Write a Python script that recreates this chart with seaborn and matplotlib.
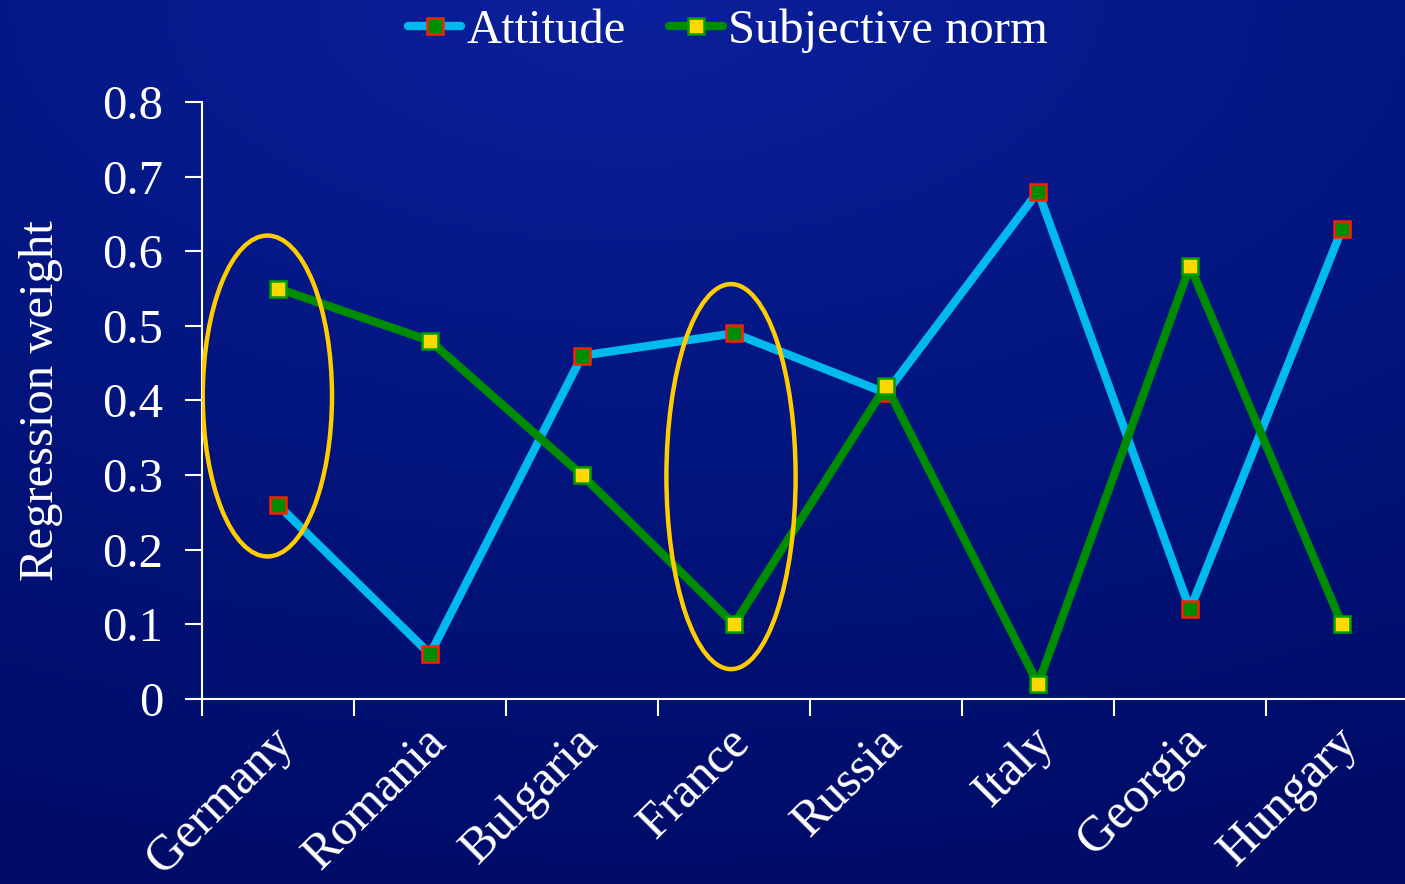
import numpy as np
import pandas as pd
import matplotlib
matplotlib.use("Agg")
import matplotlib.pyplot as plt
import matplotlib.transforms as mtransforms
from matplotlib.patches import Ellipse
from matplotlib.colors import LinearSegmentedColormap
import seaborn as sns

countries = ["Germany", "Romania", "Bulgaria", "France", "Russia", "Italy", "Georgia", "Hungary"]
attitude = [0.26, 0.06, 0.46, 0.49, 0.41, 0.68, 0.12, 0.63]
subjective_norm = [0.55, 0.48, 0.30, 0.10, 0.42, 0.02, 0.58, 0.10]
y_ticks = [0, 0.1, 0.2, 0.3, 0.4, 0.5, 0.6, 0.7, 0.8]
y_tick_labels = ["0", "0.1", "0.2", "0.3", "0.4", "0.5", "0.6", "0.7", "0.8"]
# highlighted groups: (x centre, y centre, height in data units)
highlights = [(-0.07, 0.406, 0.43), (2.98, 0.298, 0.516)]

sns.set_theme(style="ticks")
plt.rcParams["font.family"] = ["Liberation Serif", "DejaVu Serif"]

fig = plt.figure(figsize=(14.05, 8.84), dpi=100)

# background gradient
bg = fig.add_axes([0, 0, 1, 1], zorder=-10)
cmap = LinearSegmentedColormap.from_list("bg", ["#0b209c", "#03157f", "#000c68"])
yy, xx = np.mgrid[0:1:200j, 0:1:300j]
grad = np.sqrt(((xx - 0.45) * 0.9) ** 2 + (yy * 1.1) ** 2)
bg.imshow(grad, cmap=cmap, aspect="auto", extent=[0, 1, 1, 0], vmin=0, vmax=1.1)
bg.axis("off")

ax = fig.add_axes([0.1438, 0.2093, 0.8562, 0.6753])
ax.patch.set_alpha(0)

df = pd.DataFrame({"country": countries, "Attitude": attitude,
                   "Subjective norm": subjective_norm})

sns.lineplot(data=df, x="country", y="Attitude", sort=False, ax=ax,
             color="#00b9ee", linewidth=6, marker="s", markersize=11,
             markerfacecolor="#008c00", markeredgecolor="#ff2000",
             markeredgewidth=1.8, label="Attitude")
sns.lineplot(data=df, x="country", y="Subjective norm", sort=False, ax=ax,
             color="#008c00", linewidth=6, marker="s", markersize=11,
             markerfacecolor="#ffd800", markeredgecolor="#00a000",
             markeredgewidth=1.8, label="Subjective norm")

for cx, cy, h in highlights:
    ax.add_patch(Ellipse((cx, cy), 0.85, h, fill=False,
                         edgecolor="#ffcc00", linewidth=3.2, zorder=5))

ax.set_yticks(y_ticks)
ax.set_yticklabels(y_tick_labels)
ax.set_xticks(range(len(countries)))
ax.set_xticklabels(countries)
ax.set_xticks(np.arange(-0.5, 7.6, 1), minor=True)
ax.set_xlim(-0.5, 7.414)
ax.set_ylim(0, 0.8)

for side in ["top", "right"]:
    ax.spines[side].set_visible(False)
for side in ["left", "bottom"]:
    ax.spines[side].set_color("white")
    ax.spines[side].set_linewidth(1.5)

ax.tick_params(axis="y", colors="white", labelsize=35, length=12, width=1.5,
               direction="out", pad=16)
ax.tick_params(axis="x", which="major", length=0, colors="white",
               labelsize=36, pad=14)
ax.tick_params(axis="x", which="minor", length=12, width=1.5, color="white",
               direction="out")
shift = mtransforms.ScaledTranslation(-8 / 100, 0, fig.dpi_scale_trans)
for lab in ax.get_xticklabels():
    lab.set_rotation(45)
    lab.set_ha("right")
    lab.set_rotation_mode("anchor")
    lab.set_transform(lab.get_transform() + shift)

ax.set_xlabel("")
ax.set_ylabel("Regression weight", color="white", fontsize=35, labelpad=28)

leg = ax.legend(loc="upper center", bbox_to_anchor=(0.437, 1.19), ncol=2,
                frameon=False, fontsize=35, handlelength=1.1, handletextpad=0.1,
                columnspacing=0.9, borderaxespad=0)
for t in leg.get_texts():
    t.set_color("white")

fig.savefig("out.png", dpi=100, facecolor=fig.get_facecolor())
